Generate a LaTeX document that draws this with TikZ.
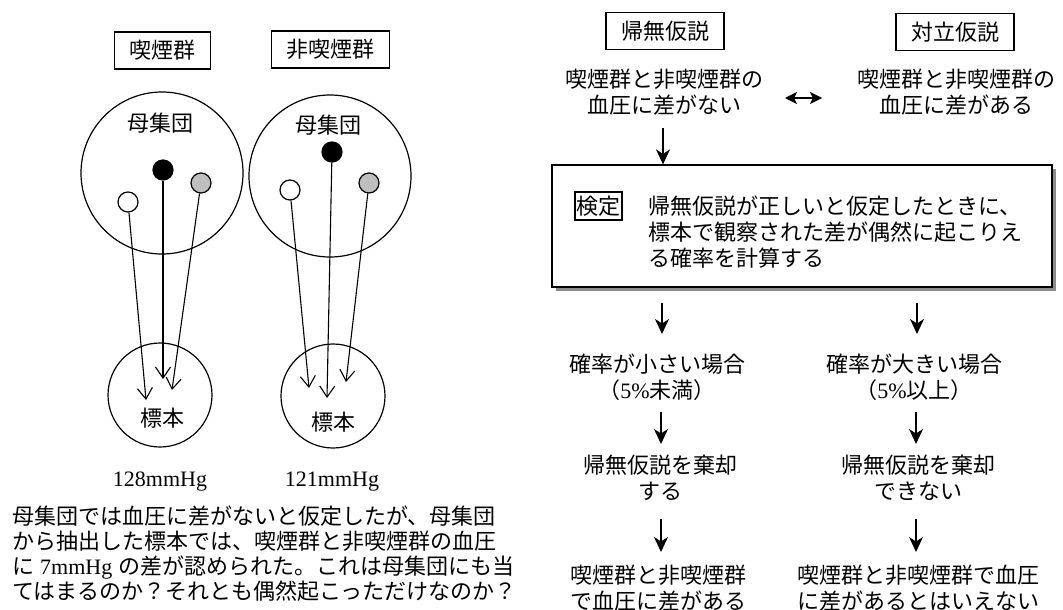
\documentclass[tikz,border=0pt]{standalone}
\usepackage{fontspec}
\setmainfont{Noto Sans CJK JP}
\newfontfamily\latinserif{Liberation Serif}
\usetikzlibrary{arrows.meta,shadows}
\XeTeXlinebreaklocale "ja"
\XeTeXlinebreakskip=0pt plus 2pt minus 2pt
\lineskiplimit=-100pt
\newcommand\tightlines{\lineskiplimit=-100pt\relax}
\newcommand\parline[1]{\makebox[480pt][s]{#1}}
\begin{document}
\begin{tikzpicture}[x=1pt,y=-1pt,
  font={\fontsize{22}{26}\selectfont\tightlines},
  txt/.style={inner sep=0pt, align=center},
  lbox/.style={draw, line width=1.2pt, inner xsep=15pt, inner ysep=0pt, minimum height=37pt},
  popc/.style={circle, draw, line width=1.2pt, inner sep=0pt},
  dot/.style={circle, draw, line width=1.2pt, inner sep=0pt, minimum size=20pt},
  oarr/.style={line width=1.1pt, -{Straight Barb[length=11pt,width=15pt,line width=1.1pt]}},
  darr/.style={line width=1.3pt, -{Stealth[length=15pt,width=14pt,inset=4.5pt]}},
  harr/.style={line width=1.3pt, {Stealth[length=12pt,width=12pt,inset=3pt]}-{Stealth[length=12pt,width=12pt,inset=3pt]}},
  numfont/.style={font={\fontsize{22}{26}\selectfont\latinserif}}
]
\useasboundingbox (0,0) rectangle (1063,610);

% ---------- left: groups ----------
\node[lbox] (gs) at (162.5,50.5) {喫煙群};
\node[lbox] (gn) at (330.5,49.5) {非喫煙群};

\node[popc, minimum size=162pt] (pop1) at (162,173) {};
\node[popc, minimum size=162pt] (pop2) at (330,176) {};
\node[txt] (pl1) at (160,123) {母集団};
\node[txt] (pl2) at (328,125) {母集団};

\node[dot, fill=white] (w1) at (128,202) {};
\node[dot, fill=black] (b1) at (163,170) {};
\node[dot, fill=black!25] (g1) at (201,183) {};
\node[dot, fill=white] (w2) at (290,190) {};
\node[dot, fill=black] (b2) at (332,152) {};
\node[dot, fill=black!25] (g2) at (369,183) {};

\node[popc, minimum size=104pt] (s1) at (160,395) {};
\node[popc, minimum size=104pt] (s2) at (333,396) {};
\node[txt] (sl1) at (162,418) {標本};
\node[txt] (sl2) at (333,422) {標本};

\coordinate (ew1) at (146,400);
\coordinate (eb1) at (163,379);
\coordinate (eg1) at (172,390);
\coordinate (ew2) at (309,388);
\coordinate (eb2) at (327,398);
\coordinate (eg2) at (346,382);
\draw[oarr] (w1) -- (ew1);
\draw[oarr] (b1) -- (eb1);
\draw[oarr] (g1) -- (eg1);
\draw[oarr] (w2) -- (ew2);
\draw[oarr] (b2) -- (eb2);
\draw[oarr] (g2) -- (eg2);

\node[txt, numfont] (mm1) at (160,482) {128mmHg};
\node[txt, numfont] (mm2) at (332,482) {121mmHg};

\node[txt, align=left, anchor=west, font={\fontsize{22}{25}\selectfont\tightlines}] (para) at (12,553.5)
  {\parline{母集団では血圧に差がないと仮定したが、母集団}\\
   \parline{から抽出した標本では、喫煙群と非喫煙群の血圧}\\
   \parline{に\hspace{6pt}{\latinserif 7mmHg}\hspace{6pt}の差が認められた。これは母集団にも当}\\
   \parline{てはまるのか？それとも偶然起こっただけなのか？}};

% ---------- right: hypotheses ----------
\node[lbox] (h0) at (665,31) {帰無仮説};
\node[lbox] (h1) at (955,32) {対立仮説};
\node[txt] (h0t) at (664,92) {喫煙群と非喫煙群の\\血圧に差がない};
\node[txt] (h1t) at (956,92) {喫煙群と非喫煙群の\\血圧に差がある};
\coordinate (ha) at (785,98);
\coordinate (hb) at (822,98);
\draw[harr] (ha) -- (hb);

% ---------- test box ----------
\node[draw, line width=1.2pt, fill=white, minimum width=500pt, minimum height=122pt, inner sep=0pt,
      drop shadow={shadow xshift=4pt, shadow yshift=-4pt, fill=black!45, opacity=1}] (test) at (802,226) {};
\node[draw, line width=1.2pt, inner xsep=1.5pt, inner ysep=0pt, minimum height=28pt] (tl) at (598.5,206) {検定};
\node[txt, align=left, anchor=west] (tt) at (648,232)
  {帰無仮説が正しいと仮定したときに、\\標本で観察された差が偶然に起こりえ\\る確率を計算する};

\coordinate (a0) at (663,128);
\draw[darr] (a0) -- (a0 |- test.north);

% ---------- outcomes ----------
\node[txt] (pL) at (657,377) {確率が小さい場合\\（{\latinserif 5\%}未満）};
\node[txt] (pR) at (914,377) {確率が大きい場合\\（{\latinserif 5\%}以上）};
\node[txt] (rL) at (660,478) {帰無仮説を棄却\\する};
\node[txt] (rR) at (918,478) {帰無仮説を棄却\\できない};
\node[txt] (cL) at (658,588) {喫煙群と非喫煙群\\で血圧に差がある};
\node[txt] (cR) at (918,588) {喫煙群と非喫煙群で血圧\\に差があるとはいえない};

\coordinate (l1a) at (662,303); \coordinate (l1b) at (662,334);
\coordinate (r1a) at (917,303); \coordinate (r1b) at (917,334);
\coordinate (l2a) at (661,412); \coordinate (l2b) at (661,444);
\coordinate (r2a) at (916,412); \coordinate (r2b) at (916,444);
\coordinate (l3a) at (661,519); \coordinate (l3b) at (661,552);
\coordinate (r3a) at (916,519); \coordinate (r3b) at (916,552);
\draw[darr] (l1a) -- (l1b);
\draw[darr] (r1a) -- (r1b);
\draw[darr] (l2a) -- (l2b);
\draw[darr] (r2a) -- (r2b);
\draw[darr] (l3a) -- (l3b);
\draw[darr] (r3a) -- (r3b);
\end{tikzpicture}
\end{document}
